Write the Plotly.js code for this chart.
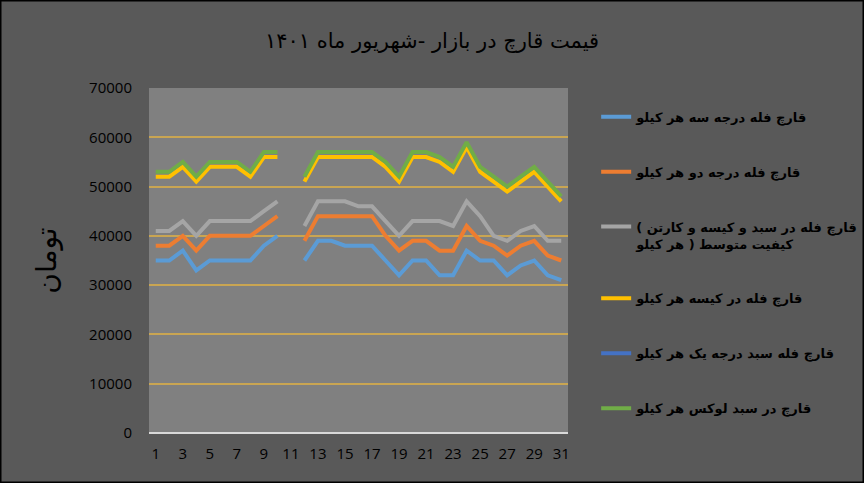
<!DOCTYPE html>
<html lang="fa">
  <head>
    <meta charset="UTF-8" />
    <title>قیمت قارچ در بازار</title>
    <script src="https://cdn.plot.ly/plotly-3.0.1.min.js"></script>
    <style>
      html,
      body {
        margin: 0;
        padding: 0;
        background: #595959;
      }
      #chart {
        width: 864px;
        height: 483px;
      }
    </style>
  </head>
  <body>
    <div id="chart"></div>
    <script>
      // days of the month (day 11 has no data)
      const days = [
        1, 2, 3, 4, 5, 6, 7, 8, 9, 10, 11, 12, 13, 14, 15, 16, 17, 18, 19, 20,
        21, 22, 23, 24, 25, 26, 27, 28, 29, 30, 31,
      ];

      const gradeThree = [
        35000, 35000, 37000, 33000, 35000, 35000, 35000, 35000, 38000, 40000,
        null, 35000, 39000, 39000, 38000, 38000, 38000, 35000, 32000, 35000,
        35000, 32000, 32000, 37000, 35000, 35000, 32000, 34000, 35000, 32000,
        31000,
      ];
      const gradeTwo = [
        38000, 38000, 40000, 37000, 40000, 40000, 40000, 40000, 42000, 44000,
        null, 39000, 44000, 44000, 44000, 44000, 44000, 40000, 37000, 39000,
        39000, 37000, 37000, 42000, 39000, 38000, 36000, 38000, 39000, 36000,
        35000,
      ];
      const mixedPack = [
        41000, 41000, 43000, 40000, 43000, 43000, 43000, 43000, 45000, 47000,
        null, 42000, 47000, 47000, 47000, 46000, 46000, 43000, 40000, 43000,
        43000, 43000, 42000, 47000, 44000, 40000, 39000, 41000, 42000, 39000,
        39000,
      ];
      const bagged = [
        52000, 52000, 54000, 51000, 54000, 54000, 54000, 52000, 56000, 56000,
        null, 51000, 56000, 56000, 56000, 56000, 56000, 54000, 51000, 56000,
        56000, 55000, 53000, 58000, 53000, 51000, 49000, 51000, 53000, 50000,
        47000,
      ];
      const gradeOne = [
        null, null, null, null, null, null, null, null, null, null, null, null,
        null, null, null, null, null, null, null, null, null, null, null, null,
        null, null, null, null, null, null, null,
      ];
      const luxury = [
        53000, 53000, 55000, 52000, 55000, 55000, 55000, 53000, 57000, 57000,
        null, 52000, 57000, 57000, 57000, 57000, 57000, 55000, 52000, 57000,
        57000, 56000, 54000, 59000, 54000, 52000, 50000, 52000, 54000, 51000,
        48000,
      ];

      // the two-line name keeps the bracket order of the source sheet (rtl)
      const seriesNames = [
        "قارچ فله درجه سه هر کیلو",
        "قارچ فله درجه دو هر کیلو",
        "قارچ فله در سبد و کیسه و کارتن )\u200F<br>کیفیت متوسط ( هر کیلو",
        "قارچ فله در کیسه هر کیلو",
        "قارچ فله سبد درجه یک هر کیلو",
        "قارچ در سبد لوکس هر کیلو",
      ];
      const seriesValues = [
        gradeThree,
        gradeTwo,
        mixedPack,
        bagged,
        gradeOne,
        luxury,
      ];
      const seriesColors = [
        "#5B9BD5",
        "#ED7D31",
        "#A5A5A5",
        "#FFC000",
        "#4472C4",
        "#70AD47",
      ];

      const data = seriesNames.map((name, i) => ({
        type: "scatter",
        mode: "lines",
        name: "<b>" + name.replace("<br>", "</b><br><b>") + "</b>",
        x: days,
        y: seriesValues[i],
        legendgroup: "g" + i,
        line: { color: seriesColors[i], width: 4 },
        connectgaps: false,
      }));

      const layout = {
        width: 864,
        height: 483,
        margin: { l: 149, r: 296, t: 88, b: 50 },
        paper_bgcolor: "#595959",
        plot_bgcolor: "#808080",
        title: {
          text: "قیمت قارچ در بازار -شهریور ماه ۱۴۰۱",
          x: 0.5,
          xref: "container",
          y: 0.915,
          yanchor: "middle",
          font: { family: "DejaVu Sans", size: 21, color: "#000" },
        },
        xaxis: {
          range: [0.5, 31.5],
          tickmode: "linear",
          tick0: 1,
          dtick: 2,
          showgrid: false,
          zeroline: false,
          showline: false,
          ticks: "",
          ticklabelstandoff: 10,
          tickfont: { family: "Open Sans, Liberation Sans", size: 15, color: "#000" },
        },
        yaxis: {
          range: [0, 70000],
          dtick: 10000,
          tickformat: "d",
          showgrid: true,
          gridcolor: "#C9A552",
          gridwidth: 1.5,
          zeroline: true,
          zerolinecolor: "#D9D9D9",
          zerolinewidth: 2,
          ticks: "",
          ticklabelstandoff: 16,
          tickfont: { family: "Open Sans, Liberation Sans", size: 15, color: "#000" },
          title: {
            text: "تومان",
            standoff: 24,
            font: { family: "DejaVu Sans", size: 28, color: "#000" },
          },
        },
        showlegend: true,
        legend: {
          xref: "container",
          x: 0.69,
          xanchor: "left",
          y: 0.96,
          yanchor: "top",
          valign: "top",
          bgcolor: "rgba(0,0,0,0)",
          traceorder: "grouped",
          tracegroupgap: 35,
          font: { family: "DejaVu Sans", size: 13, color: "#000" },
        },
        shapes: [
          {
            type: "rect",
            xref: "paper",
            yref: "paper",
            x0: -149 / 419,
            x1: 1 + 296 / 419,
            y0: -50 / 345,
            y1: 1 + 88 / 345,
            line: { color: "#000", width: 3 },
            layer: "above",
          },
        ],
      };

      Plotly.newPlot("chart", data, layout, { displayModeBar: false });
    </script>
  </body>
</html>
